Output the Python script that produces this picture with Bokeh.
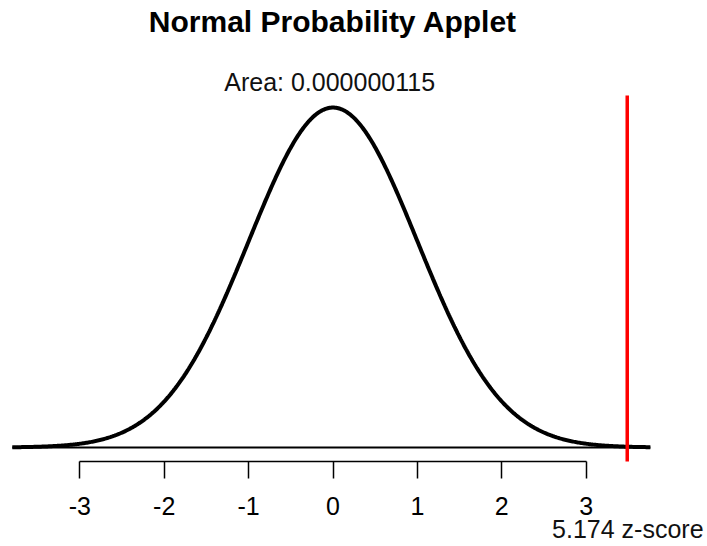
import numpy as np
from bokeh.plotting import figure
from bokeh.models import Range1d, FixedTicker, Label, LinearAxis
from bokeh.embed import file_html
from bokeh.resources import INLINE

# ---- data ----
title_text = "Normal Probability Applet"
area_text = "Area: 0.000000115"
z_score = 5.174
z_label = "5.174 z-score"
mean = 0.0
sd = 1.0
tick_values = [-3, -2, -1, 0, 1, 2, 3]
tick_labels = ["-3", "-2", "-1", "0", "1", "2", "3"]
curve_left, curve_right = -3.80, 3.76
view_x = (-3.940, 4.437)
view_y = (-0.1162, 0.5246)
axis_y = -0.01643
marker_max_x = 3.486   # right edge where the z marker is drawn when off-scale
marker_top = 0.413

xs = np.linspace(curve_left, curve_right, 600)
ys = np.exp(-0.5 * ((xs - mean) / sd) ** 2) / (sd * np.sqrt(2 * np.pi))

FONT = "Liberation Sans"

p = figure(width=707, height=546, output_backend="svg", toolbar_location=None,
           title_location=None, x_axis_type=None, y_axis_type=None,
           x_range=Range1d(*view_x), y_range=Range1d(*view_y),
           min_border_left=0, min_border_right=0, min_border_top=0,
           min_border_bottom=0)
p.outline_line_color = None
p.grid.visible = False
p.background_fill_color = "white"

ax = LinearAxis(fixed_location=axis_y)
ax.ticker = FixedTicker(ticks=tick_values)
ax.bounds = (tick_values[0], tick_values[-1])
ax.major_label_overrides = {v: s for v, s in zip(tick_values, tick_labels)}
ax.minor_tick_line_color = None
ax.major_tick_in = 0
ax.major_tick_out = 17
ax.major_tick_line_width = 1.5
ax.axis_line_width = 1.5
ax.axis_line_color = "black"
ax.major_tick_line_color = "black"
ax.major_label_text_font = FONT
ax.major_label_text_font_size = "25px"
ax.major_label_text_color = "black"
ax.major_label_standoff = 19
p.add_layout(ax, "below")

# baseline
p.line([curve_left, curve_right], [0, 0], line_color="black", line_width=2)
# curve
p.line(xs, ys, line_color="black", line_width=4)
# z marker
mx = min(z_score, marker_max_x)
p.segment(x0=[mx], y0=[axis_y], x1=[mx], y1=[marker_top],
          line_color="#ff0000", line_width=3.5)

p.add_layout(Label(x=0, y=0.5, text=title_text, text_font=FONT,
                   text_font_size="30px", text_font_style="bold",
                   text_align="center", text_baseline="middle",
                   text_color="black"))
p.add_layout(Label(x=-0.04, y=0.429, text=area_text, text_font=FONT,
                   text_font_size="25px", text_align="center",
                   text_baseline="middle", text_color="#111111"))
p.add_layout(Label(x=4.39, y=-0.0951,
                   text=z_label, text_font=FONT, text_font_size="25px",
                   text_align="right", text_baseline="middle",
                   text_color="#111111"))

open("out.html", "w").write(file_html(p, INLINE))
